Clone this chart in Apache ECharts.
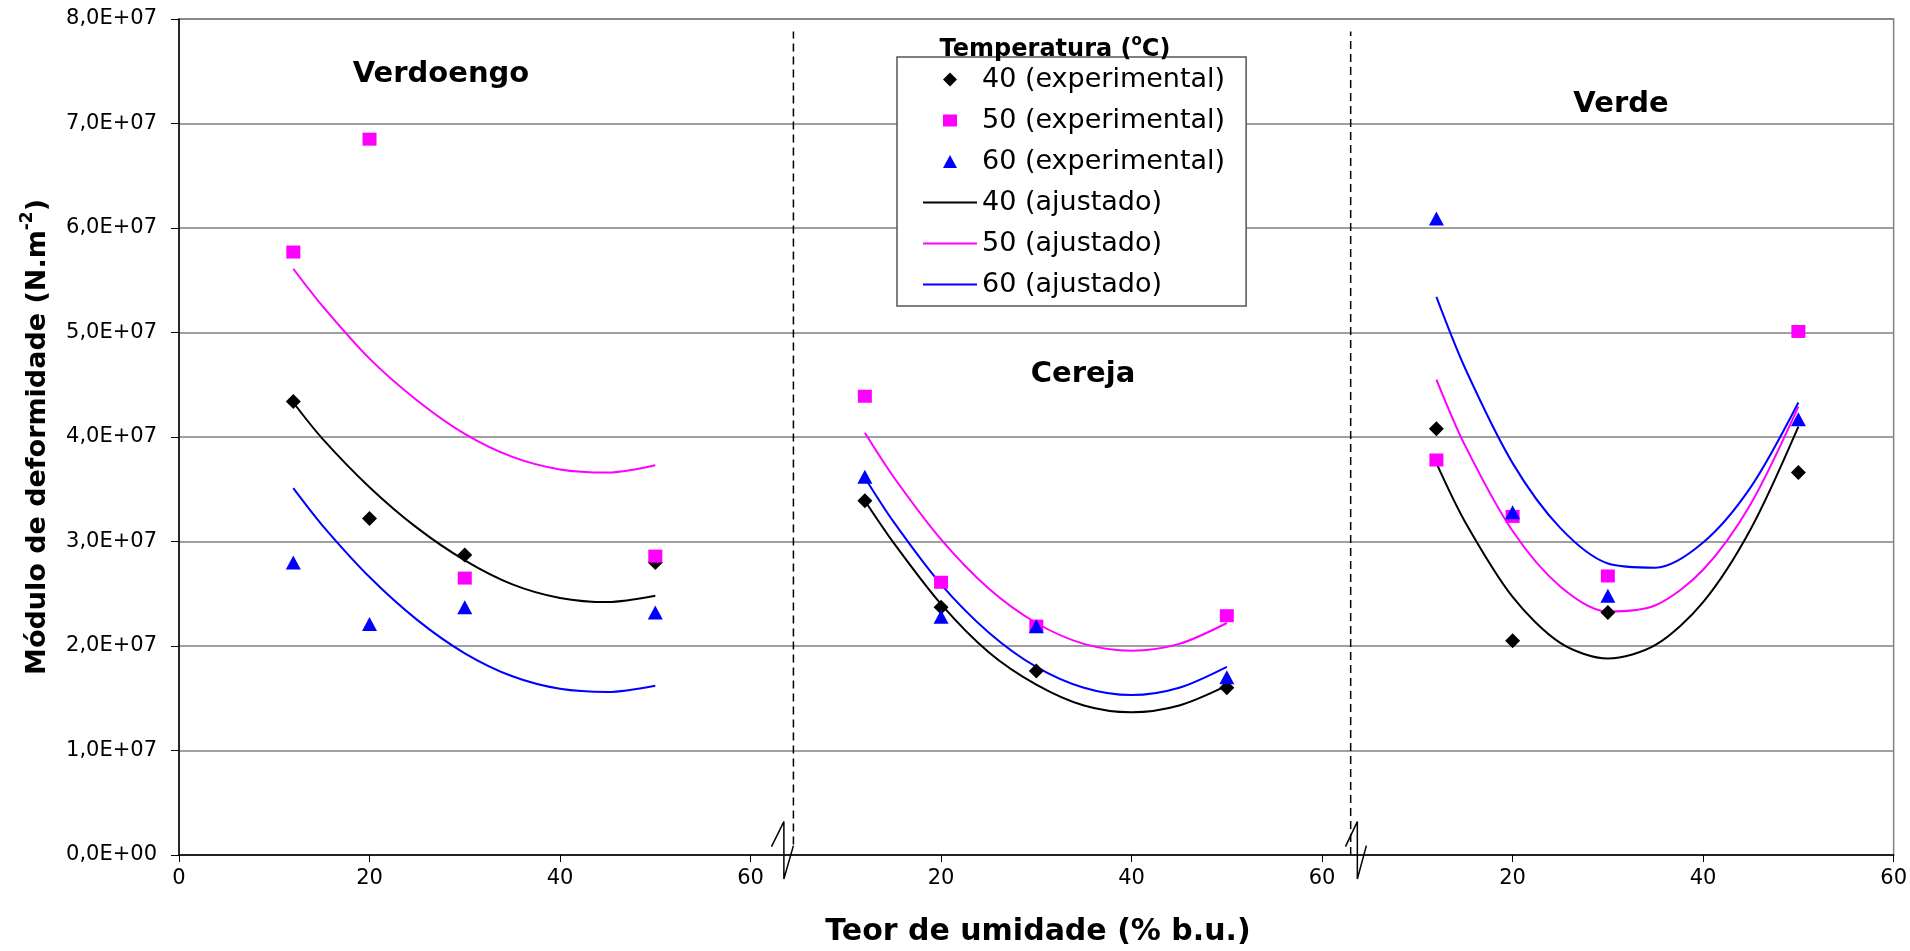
<!DOCTYPE html>
<html>
<head>
<meta charset="utf-8">
<title>Módulo de deformidade x teor de umidade</title>
<script src="https://cdn.jsdelivr.net/npm/echarts@6/dist/echarts.min.js"></script>
<style>
	html, body { margin: 0; padding: 0; background: #fff; }
	#grafico { width: 1910px; height: 951px; }
</style>
</head>
<body>
<div id="grafico"></div>
<script>
//teor de umidade (% b.u.) dos pontos medidos, o mesmo nos tres paineis
var teor = [12, 20, 30, 50];
//teor usado para ler as curvas ajustadas
var teorCurva = [12, 15, 20, 25, 30, 35, 40, 45, 50];
//um eixo x so, 0..180, cada painel ocupa 60 unidades
var painelInicio = [0, 60, 120];
var paineis = ['Verdoengo', 'Cereja', 'Verde'];

//rotulos dos eixos
var xTickLabels = ['0', '20', '40', '60', '20', '40', '60', '20', '40', '60'];
var yTickLabels = ['0,0E+00', '1,0E+07', '2,0E+07', '3,0E+07', '4,0E+07', '5,0E+07', '6,0E+07', '7,0E+07', '8,0E+07'];

//pontos experimentais (N.m-2), uma linha por painel
var exp40 = [
	[4.34e7, 3.22e7, 2.87e7, 2.80e7],
	[3.39e7, 2.37e7, 1.76e7, 1.60e7],
	[4.08e7, 2.05e7, 2.32e7, 3.66e7]
];
var exp50 = [
	[5.77e7, 6.85e7, 2.65e7, 2.86e7],
	[4.39e7, 2.61e7, 2.19e7, 2.29e7],
	[3.78e7, 3.24e7, 2.67e7, 5.01e7]
];
var exp60 = [
	[2.80e7, 2.21e7, 2.37e7, 2.32e7],
	[3.62e7, 2.28e7, 2.19e7, 1.70e7],
	[6.09e7, 3.28e7, 2.48e7, 4.17e7]
];

//curvas ajustadas
var aj40 = [
	[4.33e7, 3.99e7, 3.52e7, 3.13e7, 2.82e7, 2.59e7, 2.46e7, 2.42e7, 2.48e7],
	[3.39e7, 2.99e7, 2.40e7, 1.94e7, 1.63e7, 1.43e7, 1.365e7, 1.43e7, 1.62e7],
	[3.75e7, 3.19e7, 2.47e7, 2.03e7, 1.88e7, 2.01e7, 2.42e7, 3.12e7, 4.10e7]
];
var aj50 = [
	[5.61e7, 5.26e7, 4.75e7, 4.35e7, 4.03e7, 3.81e7, 3.69e7, 3.66e7, 3.73e7],
	[4.04e7, 3.62e7, 3.02e7, 2.55e7, 2.22e7, 2.02e7, 1.955e7, 2.02e7, 2.22e7],
	[4.55e7, 3.92e7, 3.10e7, 2.57e7, 2.33e7, 2.39e7, 2.73e7, 3.36e7, 4.29e7]
];
var aj60 = [
	[3.51e7, 3.16e7, 2.66e7, 2.25e7, 1.93e7, 1.71e7, 1.59e7, 1.56e7, 1.62e7],
	[3.61e7, 3.19e7, 2.59e7, 2.13e7, 1.80e7, 1.60e7, 1.53e7, 1.60e7, 1.80e7],
	[5.34e7, 4.66e7, 3.75e7, 3.13e7, 2.79e7, 2.75e7, 2.99e7, 3.52e7, 4.33e7]
];

//linhas tracejadas entre paineis e marcas de quebra do eixo
var separadorX = [64.5, 123.0];
var separadorY = [[1e6, 7.88e7], [0, 7.88e7]];
var quebraX = [[62.2, 63.5, 63.5, 64.5], [122.45, 123.7, 123.7, 124.65]];
var quebraY = [0.08e7, 0.32e7, -0.23e7, 0.09e7];

var temperaturas = ['40', '50', '60'];
var cores = ['#000000', '#FF00FF', '#0000FF'];
var simbolos = ['diamond', 'rect', 'triangle'];
var tamanhos = [15, [14, 13], [15, 14]];
//icones da legenda numa caixa de 54x14 (os M nos cantos fixam a caixa, o simbolo fica no meio)
var iconesLegenda = [
	'path://M0,0M54,14M27,0L34,7L27,14L20,7Z',
	'path://M0,0M54,14M20,1L34,1L34,13L20,13Z',
	'path://M0,0M54,14M27,0.5L34,13.5L20,13.5Z'
];
var iconeCurva = 'path://M0,0L54,0L54,2L0,2Z';

function grafico() {
	var myChart = echarts.init(document.getElementById('grafico'));
	var expData = [exp40, exp50, exp60];
	var ajData = [aj40, aj50, aj60];
	var series = [];
	var legenda = [];

	//curvas ajustadas, uma serie por painel com o mesmo nome
	for (var t = 0; t < 3; t++) {
		for (var p = 0; p < 3; p++) {
			var pts = [];
			for (var i = 0; i < teorCurva.length; i++) {
				pts.push([teorCurva[i] + painelInicio[p], ajData[t][p][i]]);
			}
			series.push({
				name: temperaturas[t] + ' (ajustado)',
				type: 'line',
				data: pts,
				smooth: 0.3,
				symbol: 'none',
				lineStyle: { color: cores[t], width: 2 },
				itemStyle: { color: cores[t] },
				z: 3
			});
		}
	}
	//pontos experimentais
	for (var t = 0; t < 3; t++) {
		var pts = [];
		for (var p = 0; p < 3; p++) {
			for (var i = 0; i < teor.length; i++) {
				pts.push([teor[i] + painelInicio[p], expData[t][p][i]]);
			}
		}
		series.push({
			name: temperaturas[t] + ' (experimental)',
			type: 'scatter',
			data: pts,
			symbol: simbolos[t],
			symbolSize: tamanhos[t],
			itemStyle: { color: cores[t], opacity: 1 },
			z: 4
		});
	}
	for (var t = 0; t < 3; t++) {
		legenda.push({ name: temperaturas[t] + ' (experimental)', icon: iconesLegenda[t] });
	}
	for (var t = 0; t < 3; t++) {
		legenda.push({ name: temperaturas[t] + ' (ajustado)', icon: iconeCurva });
	}

	//tracejados verticais
	for (var k = 0; k < separadorX.length; k++) {
		series.push({
			type: 'line',
			data: [[separadorX[k], separadorY[k][0]], [separadorX[k], separadorY[k][1]]],
			symbol: 'none',
			lineStyle: { color: '#000', width: 1.5, type: [8, 5] },
			silent: true,
			z: 2
		});
	}
	//quebras do eixo x
	for (var k = 0; k < quebraX.length; k++) {
		var q = [];
		for (var i = 0; i < quebraY.length; i++) q.push([quebraX[k][i], quebraY[i]]);
		series.push({
			type: 'line',
			data: q,
			symbol: 'none',
			clip: false,
			lineStyle: { color: '#000', width: 1.5 },
			silent: true,
			z: 6
		});
	}

	var fonte = 'DejaVu Sans';
	var option = {
		animation: false,
		backgroundColor: '#fff',
		grid: {
			left: 179,
			right: 15,
			top: 19,
			bottom: 96,
			show: true,
			borderColor: '#808080',
			borderWidth: 1.5
		},
		xAxis: {
			type: 'value',
			min: 0,
			max: 180,
			interval: 20,
			axisLine: { onZero: false, lineStyle: { color: '#000', width: 1.5 } },
			axisTick: { show: true, length: 7, lineStyle: { color: '#000', width: 1 } },
			axisLabel: {
				color: '#000',
				fontFamily: fonte,
				fontSize: 21,
				margin: 13,
				showMinLabel: true,
				showMaxLabel: true,
				formatter: function(v) {
					return xTickLabels[Math.round(v / 20)];
				}
			},
			splitLine: { show: false }
		},
		yAxis: {
			type: 'value',
			min: 0,
			max: 8e7,
			interval: 1e7,
			axisLine: { show: true, lineStyle: { color: '#000', width: 1.5 } },
			axisTick: { show: true, length: 8, lineStyle: { color: '#000', width: 1 } },
			axisLabel: {
				color: '#000',
				fontFamily: fonte,
				fontSize: 21,
				margin: 22,
				showMinLabel: true,
				showMaxLabel: true,
				formatter: function(v) {
					return yTickLabels[Math.round(v / 1e7)];
				}
			},
			splitLine: { lineStyle: { color: '#808080', width: 1.5 } }
		},
		legend: {
			data: legenda,
			orient: 'vertical',
			left: 897,
			top: 57,
			padding: [9, 21, 8, 26],
			itemGap: 14,
			itemWidth: 54,
			itemHeight: 14,
			symbolKeepAspect: true,
			selectedMode: false,
			backgroundColor: '#fff',
			borderColor: '#555',
			borderWidth: 1.5,
			textStyle: { fontFamily: fonte, fontSize: 27, color: '#000', lineHeight: 27 }
		},
		graphic: [
			{ type: 'text', x: 441, y: 74, z: 100, style: { text: paineis[0], font: 'bold 29px "DejaVu Sans"', fill: '#000', textAlign: 'center', textVerticalAlign: 'middle' } },
			{ type: 'text', x: 1083, y: 374, z: 100, style: { text: paineis[1], font: 'bold 29px "DejaVu Sans"', fill: '#000', textAlign: 'center', textVerticalAlign: 'middle' } },
			{ type: 'text', x: 1621, y: 104, z: 100, style: { text: paineis[2], font: 'bold 29px "DejaVu Sans"', fill: '#000', textAlign: 'center', textVerticalAlign: 'middle' } },
			{
				type: 'text', x: 1055, y: 48, z: 100,
				style: {
					text: '{b|Temperatura (}{s|o}{b|C)}',
					textAlign: 'center',
					textVerticalAlign: 'middle',
					rich: {
						b: { fontFamily: fonte, fontWeight: 'bold', fontSize: 24, lineHeight: 28, verticalAlign: 'bottom' },
						s: { fontFamily: fonte, fontWeight: 'bold', fontSize: 15, lineHeight: 15, verticalAlign: 'top' }
					}
				}
			},
			{ type: 'text', x: 1038, y: 932, z: 100, style: { text: 'Teor de umidade (% b.u.)', font: 'bold 30px "DejaVu Sans"', fill: '#000', textAlign: 'center', textVerticalAlign: 'middle' } },
			{
				type: 'text', x: 35, y: 437, z: 100, rotation: Math.PI / 2,
				style: {
					text: '{b|Módulo de deformidade (N.m}{s|-2}{b|)}',
					textAlign: 'center',
					textVerticalAlign: 'middle',
					rich: {
						b: { fontFamily: fonte, fontWeight: 'bold', fontSize: 27, lineHeight: 32, verticalAlign: 'bottom' },
						s: { fontFamily: fonte, fontWeight: 'bold', fontSize: 17, lineHeight: 17, verticalAlign: 'top' }
					}
				}
			}
		],
		series: series
	};
	myChart.setOption(option);
}
grafico();
</script>
</body>
</html>
